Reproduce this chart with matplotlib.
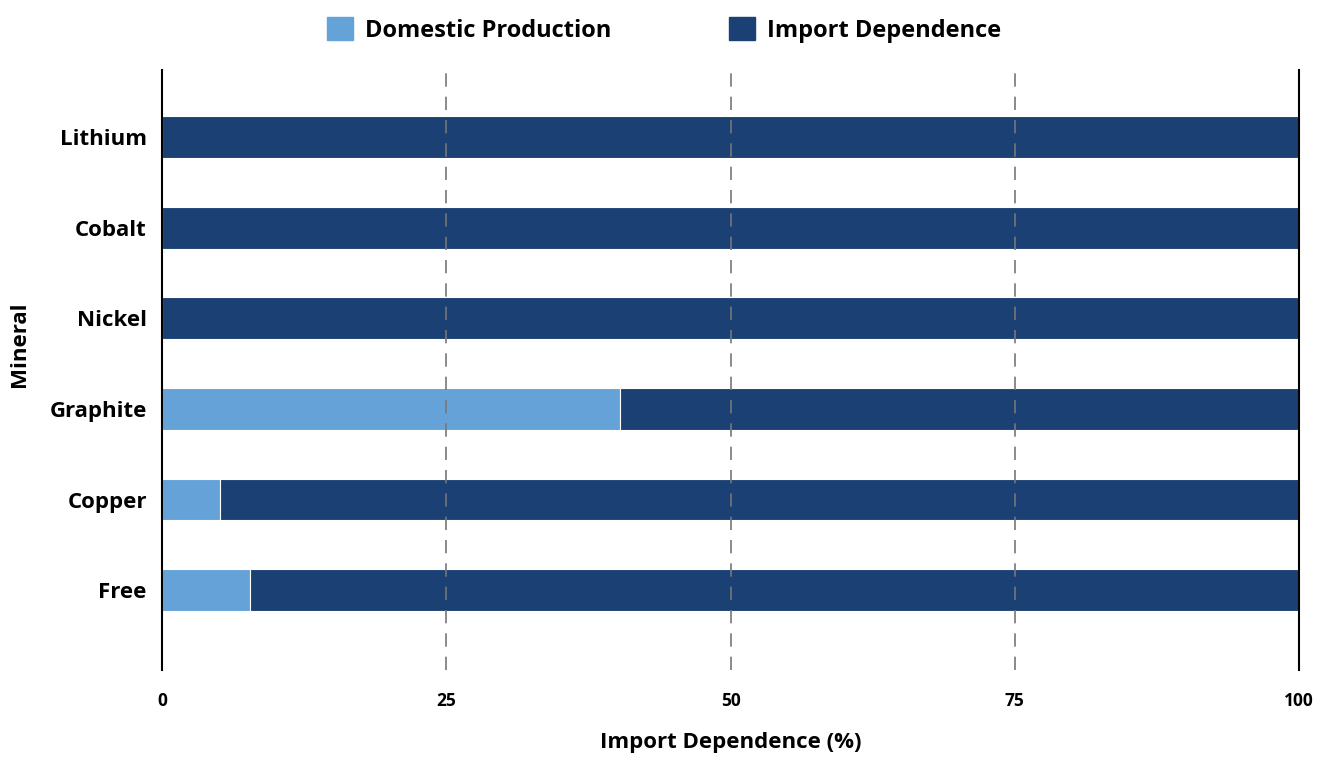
import matplotlib.pyplot as plt
from matplotlib.patches import Patch

minerals = ['Lithium', 'Cobalt', 'Nickel', 'Graphite', 'Copper', 'Free']
domestic = [0, 0, 0, 40.3, 5.1, 7.7]
imports = [100 - d for d in domestic]
xticks = [0, 25, 50, 75, 100]

light = '#65a2d8'
dark = '#1b4174'

plt.rcParams['font.family'] = ['Open Sans', 'DejaVu Sans']

fig = plt.figure(figsize=(13.36, 7.58), dpi=100)
ax = fig.add_axes([0.1213, 0.1161, 0.8510, 0.7916])

y = list(range(len(minerals)))
ax.barh(y, domestic, height=0.46, color=light, edgecolor='white', linewidth=0.8, zorder=2)
ax.barh(y, imports, left=domestic, height=0.46, color=dark, edgecolor='white', linewidth=0.8, zorder=2)

ax.set_xlim(0, 100)
ax.set_ylim(5.88, -0.74)
ax.set_yticks(y)
ax.set_yticklabels(minerals, fontsize=16, fontweight='bold')
ax.set_xticks(xticks)
ax.set_xticklabels([str(t) for t in xticks], fontsize=12.5, fontweight='bold')
ax.tick_params(axis='x', length=0, pad=16)
ax.tick_params(axis='y', length=0, pad=11)

for t in xticks[1:-1]:
    ax.axvline(t, color='#777777', linestyle=(0, (8, 6)), linewidth=1.2, zorder=3)

for s in ['top', 'bottom']:
    ax.spines[s].set_visible(False)
for s in ['left', 'right']:
    ax.spines[s].set_color('black')
    ax.spines[s].set_linewidth(1.5)

ax.set_xlabel('Import Dependence (%)', fontsize=16, fontweight='bold', labelpad=16)
ax.set_ylabel('Mineral', fontsize=16, fontweight='bold')
ax.yaxis.set_label_coords(-0.116, 0.543)

handles = [Patch(color=light, label='Domestic Production'),
           Patch(color=dark, label='Import Dependence')]
fig.legend(handles=handles, loc='upper center', bbox_to_anchor=(0.497, 1.005), ncol=2,
           frameon=False, prop={'size': 17, 'weight': 'bold'}, handlelength=1.1,
           handleheight=1.1, columnspacing=5.0, handletextpad=0.5)

fig.savefig('out.png', dpi=100)
